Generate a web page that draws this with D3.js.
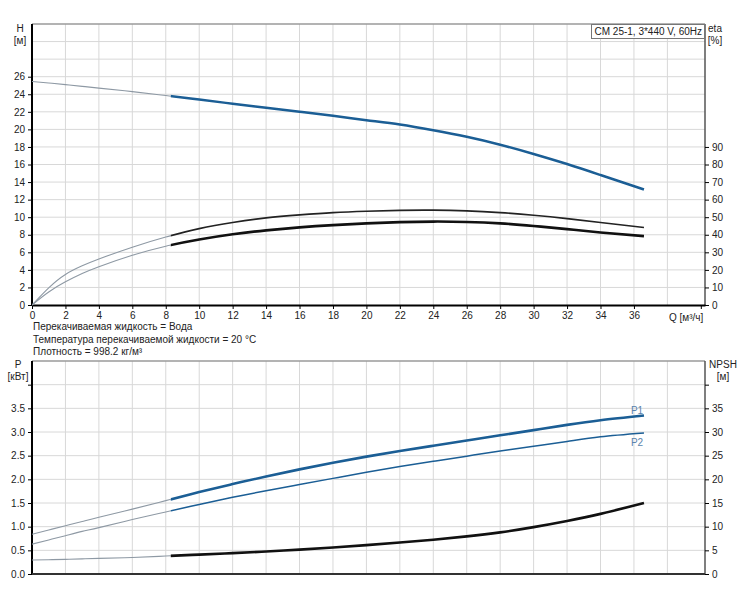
<!DOCTYPE html>
<html>
<head>
<meta charset="utf-8">
<script src="https://cdn.jsdelivr.net/npm/d3@7"></script>
<style>
  body { margin: 0; background: #fff; }
  text { font-family: "Liberation Sans", Arial, sans-serif; }
</style>
</head>
<body>
<div id="chart"></div>
<script>
"use strict";
// flow points (m3/h) shared by all curves
let flow = [0, 1, 2, 3, 4, 6, 8, 10, 12, 14, 16, 18, 20, 22, 24, 26, 28, 30, 32, 34, 36.6];
let head = [25.45, 25.28, 25.1, 24.9, 24.7, 24.3, 23.85, 23.4, 22.92, 22.45, 22.0, 21.55, 21.05, 20.55, 19.9, 19.15, 18.25, 17.2, 16.05, 14.8, 13.15];
let etaUpper = [0, 9.8, 17.4, 22.3, 26.2, 32.9, 38.7, 43.5, 47, 49.6, 51.3, 52.6, 53.4, 53.9, 54, 53.6, 52.6, 51.1, 49.2, 47, 44.1];
let etaLower = [0, 7.4, 13.2, 17.9, 21.8, 28.3, 33.5, 37.3, 40.3, 42.5, 44.2, 45.5, 46.5, 47.2, 47.5, 47.3, 46.5, 45.0, 43.2, 41.3, 39.2];
let powerP1 = [0.84, 0.93, 1.02, 1.11, 1.2, 1.37, 1.55, 1.73, 1.9, 2.06, 2.21, 2.35, 2.48, 2.6, 2.71, 2.82, 2.93, 3.04, 3.15, 3.25, 3.35];
let powerP2 = [0.63, 0.72, 0.81, 0.9, 0.98, 1.15, 1.31, 1.47, 1.62, 1.76, 1.89, 2.02, 2.15, 2.27, 2.38, 2.49, 2.6, 2.7, 2.8, 2.9, 2.98];
let npsh = [2.95, 3.02, 3.1, 3.2, 3.3, 3.5, 3.8, 4.1, 4.4, 4.75, 5.15, 5.6, 6.1, 6.65, 7.25, 7.95, 8.8, 9.9, 11.2, 12.7, 15.0];
let qStart = 8.3; // curves are thin/grey below this flow

let qTicks = d3.range(0, 37, 2);
let hTicks = d3.range(0, 27, 2);
let etaTicks = d3.range(0, 91, 10);
let pTicks = [0, 0.5, 1, 1.5, 2, 2.5, 3, 3.5];
let npshTicks = [0, 5, 10, 15, 20, 25, 30, 35];

let title = "CM 25-1, 3*440 V, 60Hz";
let notes = ["Перекачиваемая жидкость = Вода",
             "Температура перекачиваемой жидкости = 20 °C",
             "Плотность = 998.2 кг/м³"];

let width = 750, height = 600;
let left = 32, right = 705;
let top1 = 24, bottom1 = 305;
let top2 = 361, bottom2 = 574;
let blue = "#1b5e95", thinGrey = "#8e99a4";

let svg = d3.select("#chart").append("svg")
            .attr("width", width)
            .attr("height", height);

let xScale = d3.scaleLinear().domain([0, 40.25]).range([left, right]);
let hScale = d3.scaleLinear().domain([0, 32]).range([bottom1, top1]);
let etaScale = d3.scaleLinear().domain([0, 160]).range([bottom1, top1]);
let pScale = d3.scaleLinear().domain([0, 4.5]).range([bottom2, top2]);
let npshScale = d3.scaleLinear().domain([0, 45]).range([bottom2, top2]);

// clip areas: before and after qStart
function addClips(id, y0, y1) {
    let defs = svg.append("defs");
    defs.append("clipPath").attr("id", id + "a").append("rect")
        .attr("x", left).attr("y", y0).attr("width", xScale(qStart) - left).attr("height", y1 - y0);
    defs.append("clipPath").attr("id", id + "b").append("rect")
        .attr("x", xScale(qStart)).attr("y", y0).attr("width", right - xScale(qStart)).attr("height", y1 - y0);
}
addClips("top", top1 - 5, bottom1 + 2);
addClips("bot", top2 - 5, bottom2 + 2);

function grid(y, yTop, yBottom, yGrid) {
    let g = svg.append("g").attr("stroke", "#d8d8d8").attr("stroke-width", 1);
    g.selectAll(".v").data(d3.range(2, 40, 2)).enter().append("line")
        .attr("x1", function(d) { return xScale(d); })
        .attr("x2", function(d) { return xScale(d); })
        .attr("y1", yTop).attr("y2", yBottom);
    g.selectAll(".h").data(yGrid).enter().append("line")
        .attr("x1", left).attr("x2", right)
        .attr("y1", function(d) { return y(d); })
        .attr("y2", function(d) { return y(d); });
    // frame top
    svg.append("line").attr("x1", left).attr("x2", right).attr("y1", yTop).attr("y2", yTop)
        .attr("stroke", "#9a9a9a").attr("stroke-width", 1.5);
}
grid(hScale, top1, bottom1, d3.range(2, 32, 2));
grid(pScale, top2, bottom2, d3.range(0.5, 4.5, 0.5));

function styleAxis(g, w) {
    g.selectAll("text").attr("font-size", "10px").attr("fill", "#222")
        .style("font-family", "'Liberation Sans', Arial, sans-serif");
    g.select(".domain").attr("stroke-width", w);
}

// top chart axes
let hAxis = svg.append("g").attr("transform", "translate(" + left + ",0)")
    .call(d3.axisLeft(hScale).tickValues(hTicks).tickSize(4).tickSizeOuter(0).tickPadding(3));
styleAxis(hAxis, 2);
hAxis.select(".domain").attr("d", "M0," + bottom1 + "V" + top1);

let etaAxis = svg.append("g").attr("transform", "translate(" + right + ",0)")
    .call(d3.axisRight(etaScale).tickValues(etaTicks).tickSize(4).tickSizeOuter(0).tickPadding(3));
styleAxis(etaAxis, 1.5);
etaAxis.select(".domain").attr("stroke", "#555").attr("d", "M0," + bottom1 + "V" + top1);

let qAxis = svg.append("g").attr("transform", "translate(0," + bottom1 + ")")
    .call(d3.axisBottom(xScale).tickValues(qTicks.concat([40])).tickSize(4).tickSizeOuter(0).tickPadding(3)
        .tickFormat(function(d) { return d === 40 ? "" : d; }));
styleAxis(qAxis, 2);

svg.append("text").attr("x", 669).attr("y", bottom1 + 16)
    .attr("font-size", "10px").attr("fill", "#222").text("Q [м³/ч]");

// bottom chart axes
let pAxis = svg.append("g").attr("transform", "translate(" + left + ",0)")
    .call(d3.axisLeft(pScale).tickValues(pTicks.concat([4])).tickSize(4).tickSizeOuter(0).tickPadding(3)
        .tickFormat(function(d) { return d === 4 ? "" : d3.format(".1f")(d); }));
styleAxis(pAxis, 2);
pAxis.select(".domain").attr("d", "M0," + bottom2 + "V" + top2);

let npshAxis = svg.append("g").attr("transform", "translate(" + right + ",0)")
    .call(d3.axisRight(npshScale).tickValues(npshTicks.concat([40])).tickSize(4).tickSizeOuter(0).tickPadding(3)
        .tickFormat(function(d) { return d === 40 ? "" : d; }));
styleAxis(npshAxis, 1.5);
npshAxis.select(".domain").attr("stroke", "#555").attr("d", "M0," + bottom2 + "V" + top2);

svg.append("line").attr("x1", left).attr("x2", right).attr("y1", bottom2).attr("y2", bottom2)
    .attr("stroke", "#333").attr("stroke-width", 2);

// axis titles
function label(x, y, txt, anchor) {
    return svg.append("text").attr("x", x).attr("y", y).attr("text-anchor", anchor || "middle")
        .attr("font-size", "10px").attr("fill", "#222").text(txt);
}
label(20, 32, "H");
label(20, 44, "[м]");
label(715, 32, "eta");
label(715, 44, "[%]");
label(18, 368, "P");
label(18, 380, "[кВт]");
label(723, 368, "NPSH");
label(723, 380, "[м]");

// title box, sized to its text
let titleBox = svg.append("rect").attr("fill", "#fff").attr("stroke", "#777").attr("stroke-width", 1);
let titleText = label(right - 3, top1 + 11, title, "end");
let bb = titleText.node().getBBox();
titleBox.attr("x", Math.round(bb.x) - 3.5).attr("y", top1 + 0.5)
    .attr("width", right - Math.round(bb.x) + 3).attr("height", 14);

// notes
notes.forEach(function(t, i) {
    label(33, 330 + i * 12.5, t, "start");
});

// curves
function curve(values, y, clip, color, w) {
    let line = d3.line()
        .x(function(d, i) { return xScale(flow[i]); })
        .y(function(d) { return y(d); })
        .curve(d3.curveNatural);
    svg.append("path").datum(values)
        .attr("clip-path", "url(#" + clip + "a)")
        .attr("fill", "none").attr("stroke", thinGrey).attr("stroke-width", 1.1)
        .attr("d", line);
    svg.append("path").datum(values)
        .attr("clip-path", "url(#" + clip + "b)")
        .attr("fill", "none").attr("stroke", color).attr("stroke-width", w)
        .attr("d", line);
}
curve(head, hScale, "top", blue, 2.5);
curve(etaUpper, etaScale, "top", "#222", 1.6);
curve(etaLower, etaScale, "top", "#111", 2.6);
curve(powerP1, pScale, "bot", blue, 2.6);
curve(powerP2, pScale, "bot", blue, 1.5);
curve(npsh, npshScale, "bot", "#111", 2.6);

// curve names
svg.append("text").attr("x", 637).attr("y", 414).attr("text-anchor", "middle")
    .attr("font-size", "10px").attr("fill", "#5a83ad").text("P1");
svg.append("text").attr("x", 637).attr("y", 446).attr("text-anchor", "middle")
    .attr("font-size", "10px").attr("fill", "#5a83ad").text("P2");
</script>
</body>
</html>
